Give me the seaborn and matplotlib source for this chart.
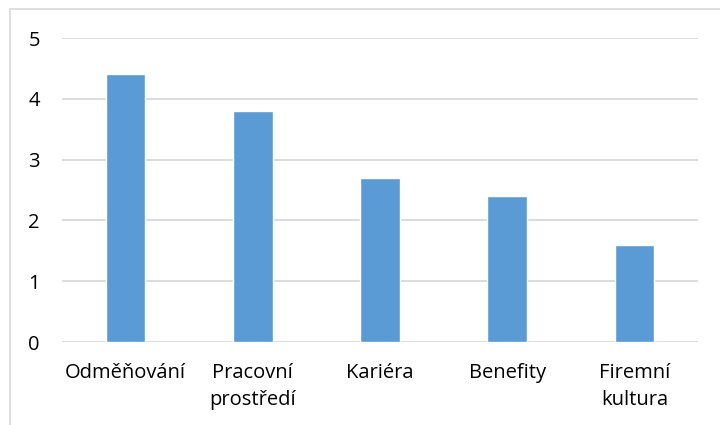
import matplotlib.pyplot as plt
import seaborn as sns
from matplotlib.lines import Line2D

# data
categories = ['Odměňování', 'Pracovní\nprostředí', 'Kariéra', 'Benefity', 'Firemní\nkultura']
values = [4.4, 3.8, 2.7, 2.4, 1.6]
yticks = [0, 1, 2, 3, 4, 5]

bar_color = '#5B9BD5'
grid_color = '#D9D9D9'

sns.set_style('white')
plt.rcParams['font.family'] = ['Open Sans', 'DejaVu Sans']

fig = plt.figure(figsize=(7.2, 4.25), dpi=100)
ax = fig.add_axes([62 / 720, 1 - 342 / 425, 636 / 720, 304 / 425])

sns.barplot(x=categories, y=values, color=bar_color, width=0.31,
            saturation=1, ax=ax, zorder=3)

ax.set_ylim(0, 5)
ax.set_xlim(-0.5, len(categories) - 0.5)
ax.set_yticks(yticks)
ax.yaxis.grid(True, color=grid_color, linewidth=1.3, zorder=0)
ax.set_axisbelow(True)
for s in ax.spines.values():
    s.set_visible(False)
ax.tick_params(axis='both', length=0, labelsize=14.5, colors='#000000')
ax.tick_params(axis='y', pad=16)
ax.tick_params(axis='x', pad=15)
for lab in ax.get_xticklabels():
    lab.set_linespacing(1.45)
ax.set_xlabel('')
ax.set_ylabel('')

# chart frame (only left and top edges are visible in the crop)
fig.add_artist(Line2D([10 / 720, 10 / 720], [0, 1 - 9 / 425], color=grid_color, linewidth=1.2))
fig.add_artist(Line2D([10 / 720, 1], [1 - 9 / 425, 1 - 9 / 425], color=grid_color, linewidth=1.2))

plt.savefig('out.png', dpi=100)
